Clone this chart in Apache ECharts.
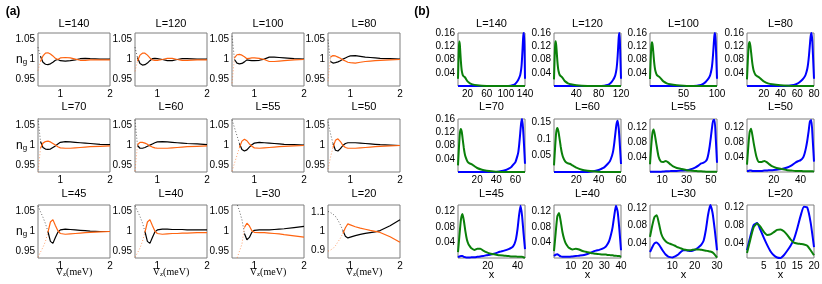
<!DOCTYPE html>
<html><head><meta charset="utf-8">
<script src="https://cdn.jsdelivr.net/npm/echarts@6/dist/echarts.min.js"></script>
<style>html,body{margin:0;padding:0;background:#fff}#c{width:822px;height:284px}</style>
</head><body><div id="c"></div>
<script>
// ---------------- DATA: panel (a) ----------------
const lengthsA = [140,120,100,80,70,60,55,50,45,40,30,20];
const vz = [0.55,0.6,0.65,0.7,0.75,0.8,0.85,0.9,0.95,1.0,1.1,1.2,1.3,1.4,1.5,1.6,1.8,2.0];
const ngBlack = [
  [1.031,1.008,0.993,0.988,0.987,0.989,0.993,0.998,1.000,0.997,0.996,0.997,0.999,1.002,1.003,1.002,1.001,1.001],
  [1.031,1.005,0.990,0.986,0.987,0.991,0.997,1.002,1.003,1.002,1.000,0.997,0.997,1.000,1.002,1.002,1.001,1.001],
  [1.060,1.000,0.991,0.989,0.990,0.994,0.999,0.998,0.997,0.997,0.998,1.001,1.006,1.006,1.005,1.004,1.002,1.001],
  [1.050,0.995,0.991,0.992,0.994,0.997,1.001,1.004,1.007,1.009,1.010,1.008,1.006,1.005,1.004,1.003,1.002,1.001],
  [1.070,1.010,0.995,0.991,0.990,0.991,0.995,0.999,1.004,1.008,1.010,1.009,1.008,1.007,1.006,1.005,1.003,1.002],
  [1.065,1.000,0.993,0.993,0.995,0.998,1.001,1.004,1.007,1.009,1.010,1.009,1.008,1.007,1.006,1.005,1.004,1.002],
  [1.065,1.045,1.025,1.005,0.990,0.986,0.989,0.996,1.002,1.006,1.008,1.007,1.006,1.005,1.004,1.003,1.002,1.001],
  [1.060,1.030,1.005,0.988,0.986,0.992,1.000,1.005,1.007,1.007,1.007,1.006,1.005,1.004,1.003,1.002,1.001,1.000],
  [1.065,1.050,1.036,1.020,1.000,0.975,0.970,0.985,0.998,1.004,1.006,1.005,1.004,1.003,1.002,1.001,1.000,1.000],
  [1.065,1.052,1.038,1.022,1.000,0.975,0.970,0.985,0.999,1.004,1.006,1.006,1.005,1.005,1.005,1.004,1.004,1.004],
  [1.110,1.090,1.070,1.052,1.030,0.995,0.979,0.985,0.998,1.003,1.004,1.004,1.004,1.005,1.006,1.007,1.010,1.013],
  [1.106,1.100,1.092,1.080,1.060,1.035,1.005,0.975,0.966,0.970,0.978,0.985,0.990,0.994,0.998,1.005,1.030,1.062]
];
const ngOrange = [
  [0.972,0.995,1.009,1.016,1.017,1.014,1.009,1.003,1.000,1.004,1.005,1.004,1.001,0.998,0.998,0.999,0.999,0.999],
  [0.970,0.996,1.011,1.016,1.016,1.011,1.004,0.999,0.998,0.998,1.000,1.003,1.003,1.000,0.998,0.998,0.999,0.999],
  [0.940,1.004,1.012,1.013,1.011,1.007,1.002,1.003,1.004,1.004,1.003,1.000,0.995,0.995,0.996,0.997,0.999,1.000],
  [0.945,1.006,1.010,1.009,1.006,1.003,0.999,0.996,0.993,0.992,0.991,0.993,0.995,0.996,0.997,0.998,0.999,1.000],
  [0.930,0.993,1.006,1.010,1.011,1.009,1.005,1.001,0.997,0.994,0.993,0.993,0.994,0.995,0.996,0.997,0.998,0.999],
  [0.935,1.002,1.008,1.008,1.006,1.003,0.999,0.996,0.994,0.993,0.993,0.993,0.994,0.995,0.996,0.997,0.998,0.999],
  [0.935,0.955,0.975,0.995,1.011,1.016,1.012,1.004,0.998,0.994,0.993,0.994,0.995,0.996,0.997,0.998,0.999,1.000],
  [0.940,0.970,0.995,1.013,1.017,1.010,1.000,0.995,0.993,0.993,0.993,0.994,0.995,0.996,0.997,0.998,0.999,1.000],
  [0.935,0.948,0.960,0.975,0.998,1.024,1.030,1.015,1.002,0.995,0.993,0.994,0.995,0.996,0.997,0.998,0.999,1.000],
  [0.935,0.946,0.958,0.975,0.998,1.024,1.030,1.015,1.001,0.995,0.993,0.994,0.995,0.995,0.996,0.996,0.997,0.997],
  [0.890,0.910,0.932,0.950,0.968,1.010,1.021,1.014,1.002,0.998,0.997,0.997,0.996,0.995,0.994,0.992,0.989,0.986],
  [0.896,0.902,0.910,0.925,0.945,0.965,0.990,1.020,1.040,1.035,1.025,1.018,1.012,1.006,1.001,0.995,0.972,0.943]
];
const yMinA = [0.933,0.933,0.933,0.933,0.933,0.933,0.933,0.933,0.933,0.933,0.933,0.86];
const yMaxA = [1.067,1.067,1.067,1.067,1.067,1.067,1.067,1.067,1.067,1.067,1.067,1.14];
const yTicksA = [[0.95,1,1.05],[0.95,1,1.05],[0.95,1,1.05],[0.95,1,1.05],[0.95,1,1.05],[0.95,1,1.05],
                 [0.95,1,1.05],[0.95,1,1.05],[0.95,1,1.05],[0.95,1,1.05],[0.95,1,1.05],[0.9,1,1.1]];
const xTicksA = [1,2];

// ---------------- DATA: panel (b) ----------------
const lengthsB = [140,120,100,80,70,60,55,50,45,40,30,20];
const posB = [
  [0,1,2,3,4,5,6,7,8,10,12,14,16,18,20,25,30,40,50,60,80,100,110,116,120,123,126,128,130,132,133,134,135,136,137,138,139,140],
  [0,1,2,3,4,5,6,7,8,10,12,14,16,18,20,25,30,40,50,60,80,90,96,100,103,106,108,110,112,113,114,115,116,117,118,119,120],
  [0,1,2,3,4,5,6,7,8,10,12,14,16,18,20,25,30,40,50,60,70,76,80,83,86,88,90,92,93,94,95,96,97,98,99,100],
  [0,1,2,3,4,5,6,7,8,10,12,14,16,18,20,25,30,40,50,56,60,63,66,68,70,72,73,74,75,76,77,78,79,80],
  [0,1,2,3,4,5,6,7,8,10,12,14,16,18,20,25,30,35,40,46,50,53,56,58,60,62,63,64,65,66,67,68,69,70],
  [0,1,2,3,4,5,6,7,8,10,12,14,16,18,20,25,30,35,40,42,45,48,50,52,53,54,55,56,57,58,59,60],
  [0,1,2,3,4,5,7,9,11,13,15,17,19,22,26,30,33,37,40,42,44,46,47,48,49,50,51,52,53,54,55],
  [0,1,2,3,4,5,7,9,11,13,15,17,19,22,26,30,33,36,38,40,42,43,44,45,46,47,48,49,50],
  [0,1,2,3,4,5,6,7,8,9,11,13,15,17,19,22,25,28,31,34,36,37,38,39,40,41,42,43,44,45],
  [0,1,2,3,4,5,6,7,8,9,11,13,15,17,19,21,23,25,27,29,31,32,33,34,35,36,37,38,39,40],
  [0,1,2,3,4,5,6,7,8,9,10,11,12,13,14,15,16,17,18,19,20,21,22,23,24,25,26,27,28,29,30],
  [0,1,2,3,4,5,6,7,8,9,10,11,12,13,14,15,16,17,18,19,20]
];
const greenB = [
  [0.022,0.075,0.12,0.134,0.122,0.098,0.075,0.057,0.045,0.033,0.029,0.027,0.023,0.018,0.014,0.008,0.005,0.002,0.0005,0,0,0,0,0,0,0,0,0,0,0,0,0,0,0,0,0,0,0],
  [0.02,0.078,0.122,0.135,0.123,0.1,0.076,0.058,0.046,0.034,0.03,0.027,0.023,0.018,0.014,0.008,0.005,0.002,0.0005,0,0,0,0,0,0,0,0,0,0,0,0,0,0,0,0,0,0],
  [0.021,0.076,0.12,0.132,0.122,0.1,0.076,0.058,0.046,0.034,0.03,0.027,0.023,0.018,0.014,0.008,0.005,0.002,0.0005,0,0,0,0,0,0,0,0,0,0,0,0,0,0,0,0,0],
  [0.02,0.078,0.122,0.133,0.122,0.1,0.076,0.058,0.046,0.034,0.03,0.027,0.023,0.018,0.014,0.008,0.005,0.002,0.0005,0,0,0,0,0,0,0,0,0,0,0,0,0,0,0],
  [0.02,0.075,0.118,0.13,0.12,0.097,0.074,0.056,0.045,0.031,0.026,0.024,0.02,0.016,0.012,0.007,0.004,0.002,0.001,0,0,0,0,0,0,0,0,0,0,0,0,0,0,0],
  [0.02,0.075,0.12,0.133,0.122,0.1,0.077,0.058,0.046,0.032,0.027,0.025,0.021,0.017,0.013,0.007,0.004,0.002,0.001,0,0,0,0,0,0,0,0,0,0,0,0,0],
  [0.021,0.07,0.105,0.115,0.1,0.08,0.042,0.028,0.027,0.03,0.026,0.02,0.015,0.011,0.008,0.005,0.004,0.003,0.002,0.002,0.0015,0.001,0.001,0.001,0.001,0.001,0.001,0.001,0.001,0.001,0.0],
  [0.02,0.07,0.108,0.117,0.1,0.078,0.042,0.027,0.027,0.03,0.026,0.02,0.015,0.011,0.008,0.005,0.004,0.003,0.003,0.003,0.002,0.002,0.002,0.002,0.002,0.002,0.002,0.002,0.001],
  [0.015,0.06,0.1,0.114,0.095,0.068,0.047,0.036,0.03,0.025,0.021,0.024,0.024,0.019,0.015,0.011,0.009,0.007,0.006,0.005,0.004,0.004,0.004,0.004,0.003,0.003,0.003,0.003,0.002,0.0],
  [0.018,0.065,0.108,0.116,0.095,0.068,0.05,0.038,0.031,0.026,0.022,0.024,0.022,0.018,0.016,0.014,0.012,0.011,0.01,0.009,0.009,0.008,0.008,0.007,0.007,0.006,0.006,0.005,0.005,0.003],
  [0.054,0.08,0.1,0.104,0.085,0.062,0.05,0.044,0.04,0.038,0.036,0.034,0.031,0.029,0.027,0.025,0.024,0.023,0.023,0.024,0.025,0.025,0.025,0.024,0.023,0.022,0.021,0.02,0.018,0.013,0.006],
  [0.018,0.048,0.075,0.083,0.076,0.065,0.058,0.059,0.064,0.069,0.07,0.066,0.058,0.048,0.041,0.039,0.038,0.037,0.034,0.024,0.013]
];
const blueB = [
  [0,0,0,0,0,0,0,0,0,0,0,0,0,0,0,0,0,0,0,0,0,0,0.001,0.003,0.007,0.012,0.019,0.025,0.033,0.05,0.065,0.088,0.115,0.143,0.158,0.16,0.11,0.022],
  [0,0,0,0,0,0,0,0,0,0,0,0,0,0,0,0,0,0,0,0,0,0.001,0.003,0.007,0.012,0.019,0.025,0.034,0.052,0.068,0.09,0.12,0.148,0.16,0.135,0.08,0.022],
  [0,0,0,0,0,0,0,0,0,0,0,0,0,0,0,0,0,0,0,0,0.001,0.003,0.007,0.012,0.019,0.025,0.034,0.052,0.068,0.092,0.122,0.15,0.16,0.135,0.08,0.022],
  [0,0,0,0,0,0,0,0,0,0,0,0,0,0,0,0,0,0,0.001,0.003,0.007,0.012,0.019,0.025,0.034,0.052,0.068,0.092,0.122,0.15,0.16,0.135,0.08,0.022],
  [0,0,0,0,0,0,0,0,0,0,0,0,0,0,0,0,0,0,0,0.003,0.006,0.01,0.016,0.023,0.03,0.048,0.06,0.085,0.117,0.148,0.16,0.13,0.08,0.025],
  [0,0,0,0,0,0,0,0,0,0,0,0,0,0,0,0,0,0.002,0.006,0.009,0.014,0.024,0.032,0.05,0.064,0.088,0.118,0.145,0.155,0.13,0.08,0.024],
  [0.001,0.001,0.001,0.001,0.001,0.001,0.001,0.001,0.0015,0.002,0.002,0.0025,0.003,0.003,0.004,0.005,0.007,0.012,0.018,0.023,0.025,0.03,0.036,0.05,0.07,0.095,0.122,0.14,0.14,0.09,0.025],
  [0.003,0.003,0.004,0.004,0.003,0.003,0.003,0.003,0.003,0.004,0.004,0.005,0.005,0.006,0.008,0.012,0.017,0.025,0.029,0.032,0.04,0.05,0.065,0.085,0.11,0.137,0.14,0.09,0.028],
  [0.002,0.004,0.005,0.005,0.003,0.002,0.001,0.001,0.001,0.002,0.002,0.003,0.004,0.005,0.007,0.009,0.012,0.016,0.019,0.023,0.027,0.03,0.037,0.05,0.075,0.11,0.135,0.11,0.065,0.023],
  [0.005,0.009,0.01,0.007,0.004,0.003,0.003,0.003,0.003,0.003,0.004,0.005,0.006,0.007,0.009,0.012,0.016,0.019,0.021,0.024,0.03,0.036,0.045,0.06,0.08,0.11,0.135,0.12,0.075,0.02],
  [0.019,0.03,0.039,0.041,0.036,0.028,0.02,0.013,0.009,0.007,0.006,0.008,0.011,0.015,0.02,0.023,0.023,0.022,0.021,0.022,0.024,0.027,0.031,0.036,0.045,0.07,0.105,0.128,0.11,0.07,0.023],
  [0.024,0.055,0.08,0.084,0.069,0.052,0.036,0.022,0.013,0.008,0.007,0.013,0.023,0.034,0.048,0.072,0.1,0.12,0.118,0.085,0.031]
];
const yMinB = [0,0,0,0,0,0,0,0,0,0,0.005,0.007];
const yMaxB = [0.16,0.16,0.16,0.16,0.16,0.16,0.143,0.143,0.137,0.137,0.128,0.124];
const yTicksB = [[0.04,0.08,0.12,0.16],[0.04,0.08,0.12,0.16],[0.04,0.08,0.12,0.16],[0.04,0.08,0.12,0.16],
                 [0.04,0.08,0.12,0.16],[0.05,0.1,0.15],[0.04,0.08,0.12],[0.04,0.08,0.12],
                 [0.04,0.08,0.12],[0.04,0.08,0.12],[0.04,0.08,0.12],[0.04,0.08,0.12]];
const xTicksB = [[20,60,100,140],[40,80,120],[50,100],[20,40,60,80],[20,40,60],[20,40,60],
                 [10,30,50],[20,40],[20,40],[10,20,30,40],[10,20,30],[5,10,15,20]];

// ---------------- LAYOUT / STYLE ----------------
const colA = [38,135,232,328], wA = 72;
const colB = [458,554,650,747], wB = 67;
const rowTop = [33,119,205], H = 53;
const titleY = [23.5,107,193.5];
// number of leading (sparse, faintly drawn) samples in each panel (a) curve
const sparseA = [1,1,1,1,1,1,3,2,4,4,5,6];
const FONT = '"Liberation Sans", Arial, Helvetica, sans-serif';
const SERIF = '"Liberation Serif", "Times New Roman", serif';
const FRAME = '#7f7f7f';

const grids = [], xAxes = [], yAxes = [], series = [], graphics = [];

function txt(x, y, text, size, opts) {
  opts = opts || {};
  const st = {text: text, fill: '#000', fontSize: size, fontFamily: opts.family || FONT,
    fontWeight: opts.weight || 'normal', align: opts.align || 'center', verticalAlign: 'middle',
    textAlign: opts.align || 'center', textVerticalAlign: 'middle'};
  if (opts.rich) st.rich = opts.rich;
  graphics.push({type: 'text', x: x, y: y, silent: true, style: st});
}

function addPanel(left, top, width, xmin, xmax, ymin, ymax, xt, yt) {
  const gi = grids.length;
  grids.push({left: left, top: top, width: width, height: H, show: true, borderColor: FRAME,
    borderWidth: 1, backgroundColor: '#fff', containLabel: false, outerBoundsMode: 'none'});
  xAxes.push({type: 'value', gridIndex: gi, min: xmin, max: xmax,
    axisLine: {show: false}, axisTick: {show: false}, splitLine: {show: false},
    axisLabel: {customValues: xt, fontSize: 10, color: '#000', margin: 3, fontFamily: FONT, hideOverlap: false}});
  yAxes.push({type: 'value', gridIndex: gi, min: ymin, max: ymax,
    axisLine: {show: false}, axisTick: {show: false}, splitLine: {show: false},
    axisLabel: {customValues: yt, fontSize: 10, color: '#000', margin: 3, fontFamily: FONT, hideOverlap: false}});
  return gi;
}

function addCurveA(gi, values, n, color) {
  const pts = vz.map(function (v, k) { return [v, values[k]]; });
  series.push({type: 'line', xAxisIndex: gi, yAxisIndex: gi, showSymbol: false, silent: true,
    data: pts.slice(0, n + 1), lineStyle: {color: color, width: 0.8, type: [1, 2], opacity: 0.75}});
  series.push({type: 'line', xAxisIndex: gi, yAxisIndex: gi, showSymbol: false, silent: true,
    data: pts.slice(n), lineStyle: {color: color, width: 1.2}});
}

// panel (a)
lengthsA.forEach(function (L, i) {
  const r = Math.floor(i / 4), c = i % 4;
  const gi = addPanel(colA[c], rowTop[r], wA, 0.55, 2, yMinA[i], yMaxA[i], xTicksA, yTicksA[i]);
  addCurveA(gi, ngBlack[i], sparseA[i], '#000');
  addCurveA(gi, ngOrange[i], sparseA[i], '#ff6410');
  txt(colA[c] + wA / 2, titleY[r], 'L=' + L, 11);
  if (c === 0) {
    txt(16, rowTop[r] + H / 2, '{n|n}{g|g}', 12, {align: 'left',
      rich: {n: {fontSize: 12, fontFamily: FONT, fill: '#000'},
             g: {fontSize: 8, fontFamily: FONT, fill: '#000', verticalAlign: 'bottom'}}});
  }
  if (r === 2) {
    txt(colA[c] + wA / 2, 272.5, '{v|V}{s|z}{v|(meV)}', 10, {family: SERIF,
      rich: {v: {fontSize: 10, fontFamily: SERIF, fill: '#000'},
             s: {fontSize: 7, fontFamily: SERIF, fill: '#000', verticalAlign: 'bottom'}}});
  }
});

// panel (b)
lengthsB.forEach(function (L, i) {
  const r = Math.floor(i / 4), c = i % 4;
  const gi = addPanel(colB[c], rowTop[r], wB, 0, L, yMinB[i], yMaxB[i], xTicksB[i], yTicksB[i]);
  series.push({type: 'line', xAxisIndex: gi, yAxisIndex: gi, showSymbol: false, silent: true, smooth: 0.2,
    data: posB[i].map(function (x, k) { return [x, blueB[i][k]]; }),
    lineStyle: {color: '#0000ff', width: 2}});
  series.push({type: 'line', xAxisIndex: gi, yAxisIndex: gi, showSymbol: false, silent: true, smooth: 0.2,
    data: posB[i].map(function (x, k) { return [x, greenB[i][k]]; }),
    lineStyle: {color: '#0a800a', width: 2}});
  txt(colB[c] + wB / 2, titleY[r], 'L=' + L, 11);
  if (r === 2) txt(colB[c] + wB / 2, 275, 'x', 11);
});

txt(13, 12, '(a)', 12, {weight: 'bold'});
txt(422, 12, '(b)', 12, {weight: 'bold'});

const chart = echarts.init(document.getElementById('c'), null, {renderer: 'canvas'});
chart.setOption({animation: false, grid: grids, xAxis: xAxes, yAxis: yAxes, series: series, graphic: graphics});
</script>
</body></html>
